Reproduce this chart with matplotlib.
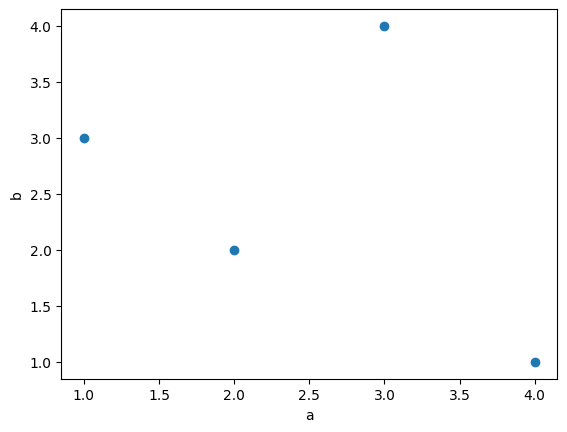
import matplotlib
matplotlib.use("Agg")
import matplotlib.pyplot as plt

# data
a = [1, 2, 3, 4]
b = [3, 2, 4, 1]

fig, ax = plt.subplots(figsize=(6.4, 4.8), dpi=100)
ax.scatter(a, b)
ax.set_xlabel('a')
ax.set_ylabel('b')

fig.savefig('out.png', dpi=100, bbox_inches='tight')
